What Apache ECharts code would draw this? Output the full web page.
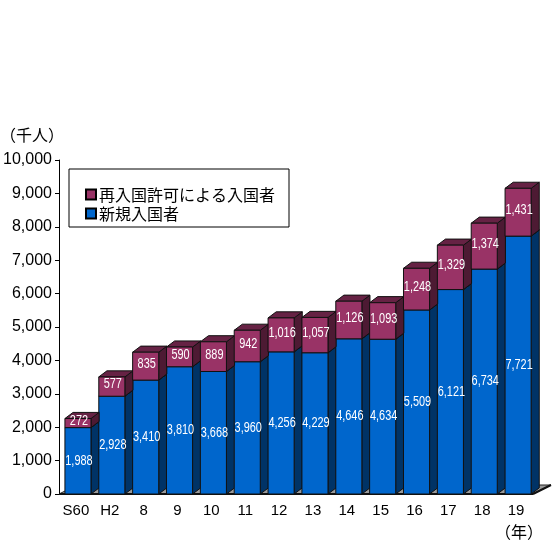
<!DOCTYPE html>
<html>
<head>
<meta charset="utf-8">
<script src="https://cdn.jsdelivr.net/npm/echarts@6/dist/echarts.min.js"></script>
<style>
html,body{margin:0;padding:0;background:#fff;}
#main{width:553px;height:549px;}
</style>
</head>
<body>
<div id="main"></div>
<script>
const categories = ['S60','H2','8','9','10','11','12','13','14','15','16','17','18','19'];
const newEntrants = [1988,2928,3410,3810,3668,3960,4256,4229,4646,4634,5509,6121,6734,7721];
const reentry = [272,577,835,590,889,942,1016,1057,1126,1093,1248,1329,1374,1431];
const seriesNames = ['再入国許可による入国者','新規入国者'];
const yUnit = '（千人）';
const xUnit = '（年）';

const SANS = '"Liberation Sans",Arial,sans-serif';
const CJK = '"Noto Sans CJK JP","Noto Sans",sans-serif';

function fmt(v){ return String(v).replace(/\B(?=(\d{3})+(?!\d))/g, ','); }

function makeSeg(front, side, top, labelShift){
  return function(params, api){
    const i = api.value(0);
    const lo = api.value(1), hi = api.value(2), val = api.value(3);
    const pLo = api.coord([i, lo]);
    const pHi = api.coord([i, hi]);
    const bw = api.size([1, 0])[0];
    const c = pLo[0];
    const x0 = c - 0.325 * bw;
    const w = 0.77 * bw;
    const x1 = x0 + w;
    const dx = 0.24 * bw, dy = 0.18 * bw;
    const yb = pLo[1], yt = pHi[1];
    const stroke = {stroke:'#111', lineWidth:1};
    return {
      type:'group',
      children:[
        {type:'polygon', shape:{points:[[x1,yb],[x1+dx,yb-dy],[x1+dx,yt-dy],[x1,yt]]},
          style:Object.assign({fill:side}, stroke)},
        {type:'polygon', shape:{points:[[x0,yt],[x0+dx,yt-dy],[x1+dx,yt-dy],[x1,yt]]},
          style:Object.assign({fill:top}, stroke)},
        {type:'rect', shape:{x:x0, y:yt, width:w, height:yb-yt},
          style:Object.assign({fill:front}, stroke)},
        {type:'text', x:x0 + w/2 + 1, y:(yb+yt)/2 + labelShift, scaleX:0.78,
          style:{text:fmt(val), fill:'#fff', font:'14px ' + SANS, align:'center', verticalAlign:'middle'}}
      ]
    };
  };
}

function floorItem(params, api){
  const cs = params.coordSys;
  const x = cs.x, y = cs.y + cs.height, w = cs.width;
  const dx = 18, dy = 9;
  return {
    type:'group',
    children:[
      {type:'polygon', shape:{points:[[x,y],[x+w,y],[x+w+dx,y-dy],[x+dx,y-dy]]},
        style:{fill:'#9a9a9a', stroke:'#222', lineWidth:1}},
      {type:'line', shape:{x1:x, y1:y, x2:x+w, y2:y}, style:{stroke:'#111', lineWidth:2}},
      {type:'line', shape:{x1:x+w, y1:y, x2:x+w+dx, y2:y-dy}, style:{stroke:'#111', lineWidth:2}}
    ]
  };
}

const chart = echarts.init(document.getElementById('main'), null, {renderer:'canvas'});
chart.setOption({
  animation:false,
  backgroundColor:'#fff',
  grid:{left:59, right:20, top:160, bottom:55, containLabel:false},
  legend:{
    data:[seriesNames[0], seriesNames[1]],
    orient:'vertical', left:69, top:169, width:223,
    icon:'rect', itemWidth:10, itemHeight:10, itemGap:2,
    padding:[17,14,5,16],
    borderColor:'#000', borderWidth:1,
    backgroundColor:'#fff',
    textStyle:{fontFamily:CJK, fontSize:16, lineHeight:17, color:'#000', padding:[0,0,0,-2]}
  },
  graphic:[
    {type:'text', left:0, top:127, style:{text:yUnit, font:'16px ' + CJK, fill:'#000'}},
    {type:'text', left:495, top:524, style:{text:xUnit, font:'16px ' + CJK, fill:'#000'}}
  ],
  xAxis:{
    type:'category', data:categories,
    axisLine:{show:false}, axisTick:{show:false},
    axisLabel:{color:'#000', fontFamily:SANS, fontSize:15, margin:9, interval:0}
  },
  yAxis:{
    type:'value', min:0, max:10000, interval:1000,
    axisLine:{show:true, lineStyle:{color:'#000', width:1}},
    axisTick:{show:true, length:4, lineStyle:{color:'#000'}},
    splitLine:{show:false},
    axisLabel:{color:'#000', fontFamily:SANS, fontSize:16, margin:7, formatter:fmt}
  },
  series:[
    {type:'custom', name:'floor', silent:true, z:1, renderItem:floorItem, data:[[0,0]], encode:{x:0,y:1}, legendHoverLink:false},
    {type:'custom', name:seriesNames[1], z:2,
      itemStyle:{color:'#0066cc', borderColor:'#000', borderWidth:1},
      renderItem:makeSeg('#0066cc','#003366','#0055aa',0),
      encode:{x:0, y:[1,2]},
      data:newEntrants.map((v,i)=>[i,0,v,v])},
    {type:'custom', name:seriesNames[0], z:3,
      itemStyle:{color:'#993366', borderColor:'#000', borderWidth:1},
      renderItem:makeSeg('#993366','#4d1a33','#662244',-2),
      encode:{x:0, y:[1,2]},
      data:reentry.map((v,i)=>[i,newEntrants[i],newEntrants[i]+v,v])}
  ]
});
</script>
</body>
</html>
